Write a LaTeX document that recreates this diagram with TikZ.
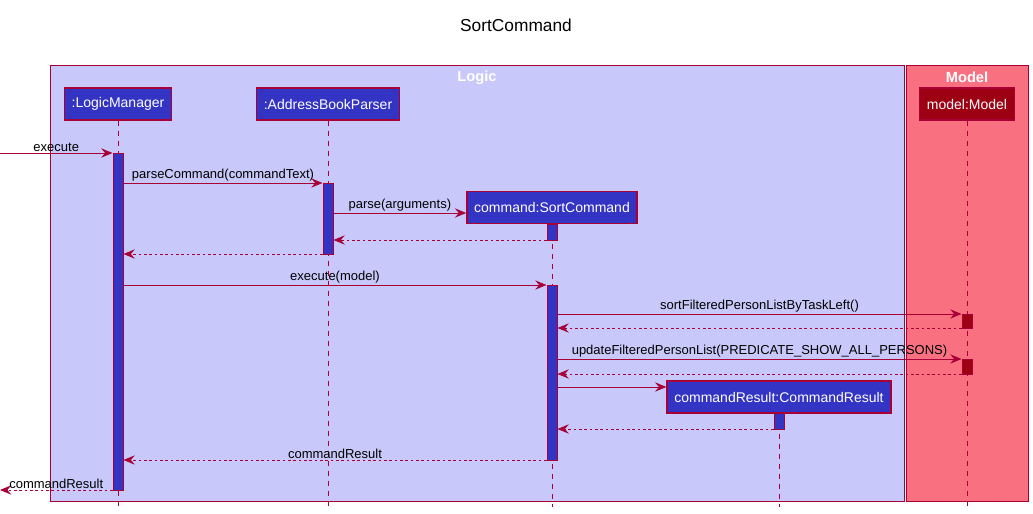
\documentclass[tikz,border=0pt]{standalone}
\usepackage{fontspec}
\setmainfont{Liberation Sans}
\usetikzlibrary{arrows.meta}

\definecolor{umlred}{HTML}{A80036}
\definecolor{logicbg}{HTML}{C8C8FA}
\definecolor{modelbg}{HTML}{F97181}
\definecolor{partblue}{HTML}{3333C4}
\definecolor{modelpart}{HTML}{9D0012}

\begin{document}
\begin{tikzpicture}[x=0.75pt, y=-0.75pt, >={Stealth[length=8.5pt, width=7pt, inset=3pt]},
  part/.style={draw=umlred, line width=1pt, fill=partblue, text=white, minimum height=24pt,
    inner xsep=5.5pt, font=\fontsize{10.5}{12}\selectfont},
  act/.style={draw=umlred, line width=0.75pt, minimum width=7.5pt, inner sep=0pt},
  life/.style={umlred, line width=0.75pt, dash pattern=on 3.75pt off 3.75pt},
  call/.style={->, umlred, line width=0.75pt},
  ret/.style={->, umlred, line width=0.75pt, dash pattern=on 2pt off 2pt},
  lbl/.style={midway, above, inner sep=0.8pt, text=black, font=\fontsize{9.75}{11}\selectfont},
  boxlbl/.style={text=white, font=\bfseries\fontsize{11}{13}\selectfont}]

\useasboundingbox (0,0) rectangle (1033,514);

% title and the two packages
\node (title) at (516,25) {\fontsize{13}{15}\selectfont SortCommand};
\draw[umlred, fill=logicbg, line width=0.75pt] (50,65) rectangle (904,501);
\draw[umlred, fill=modelbg, line width=0.75pt] (906,65) rectangle (1028,501);
\node[boxlbl] (logic) at (477,77.5) {Logic};
\node[boxlbl] (model) at (967,77.5) {Model};

% participants and their lifelines
\node[part] (lm) at (118,104) {:LogicManager};
\node[part] (abp) at (328,104) {:AddressBookParser};
\node[part] (sc) at (552,207.5) {command:SortCommand};
\node[part] (cr) at (779,397) {commandResult:CommandResult};
\node[part, fill=modelpart] (mdl) at (967,104) {model:Model};
\foreach \p in {lm,abp,sc,cr,mdl}
  \draw[life] (\p.south) -- (\p.south |- 0,507);

% activation bars
\foreach \n/\x/\a/\b/\c in {lmA/118/153/490/partblue, abpA/328/183/254/partblue,
    scA/552/224/240/partblue, scB/552/285/460/partblue, crA/779/413/429/partblue,
    mdlA/967/314/328/modelpart, mdlB/967/359/374/modelpart}
  \node[act, fill=\c, minimum height={(\b-\a)*0.75pt}] (\n) at (\x,{(\a+\b)/2}) {};

% messages
\coordinate (in) at (0,153);
\coordinate (out) at (0,490);
\draw[call] (in) -- node[lbl]{execute} (lmA.west |- in);
\draw[call] (lmA.east |- 0,183) -- node[lbl]{parseCommand(commandText)} (abpA.west |- 0,183);
\draw[call] (abpA.east |- 0,213) -- node[lbl]{parse(arguments)} (sc.west |- 0,213);
\draw[ret] (scA.west |- 0,240) -- (abpA.east |- 0,240);
\draw[ret] (abpA.west |- 0,254) -- (lmA.east |- 0,254);
\draw[call] (lmA.east |- 0,285) -- node[lbl]{execute(model)} (scB.west |- 0,285);
\draw[call] (scB.east |- 0,314) -- node[lbl]{sortFilteredPersonListByTaskLeft()} (mdlA.west |- 0,314);
\draw[ret] (mdlA.west |- 0,328) -- (scB.east |- 0,328);
\draw[call] (scB.east |- 0,359) -- node[lbl]{updateFilteredPersonList(PREDICATE\_SHOW\_ALL\_PERSONS)} (mdlB.west |- 0,359);
\draw[ret] (mdlB.west |- 0,374) -- (scB.east |- 0,374);
\draw[call] (scB.east |- 0,387) -- (cr.west |- 0,387);
\draw[ret] (crA.west |- 0,429) -- (scB.east |- 0,429);
\draw[ret] (scB.west |- 0,460) -- node[lbl]{commandResult} (lmA.east |- 0,460);
\draw[ret] (lmA.west |- out) -- node[lbl]{commandResult} (out);
\end{tikzpicture}
\end{document}
